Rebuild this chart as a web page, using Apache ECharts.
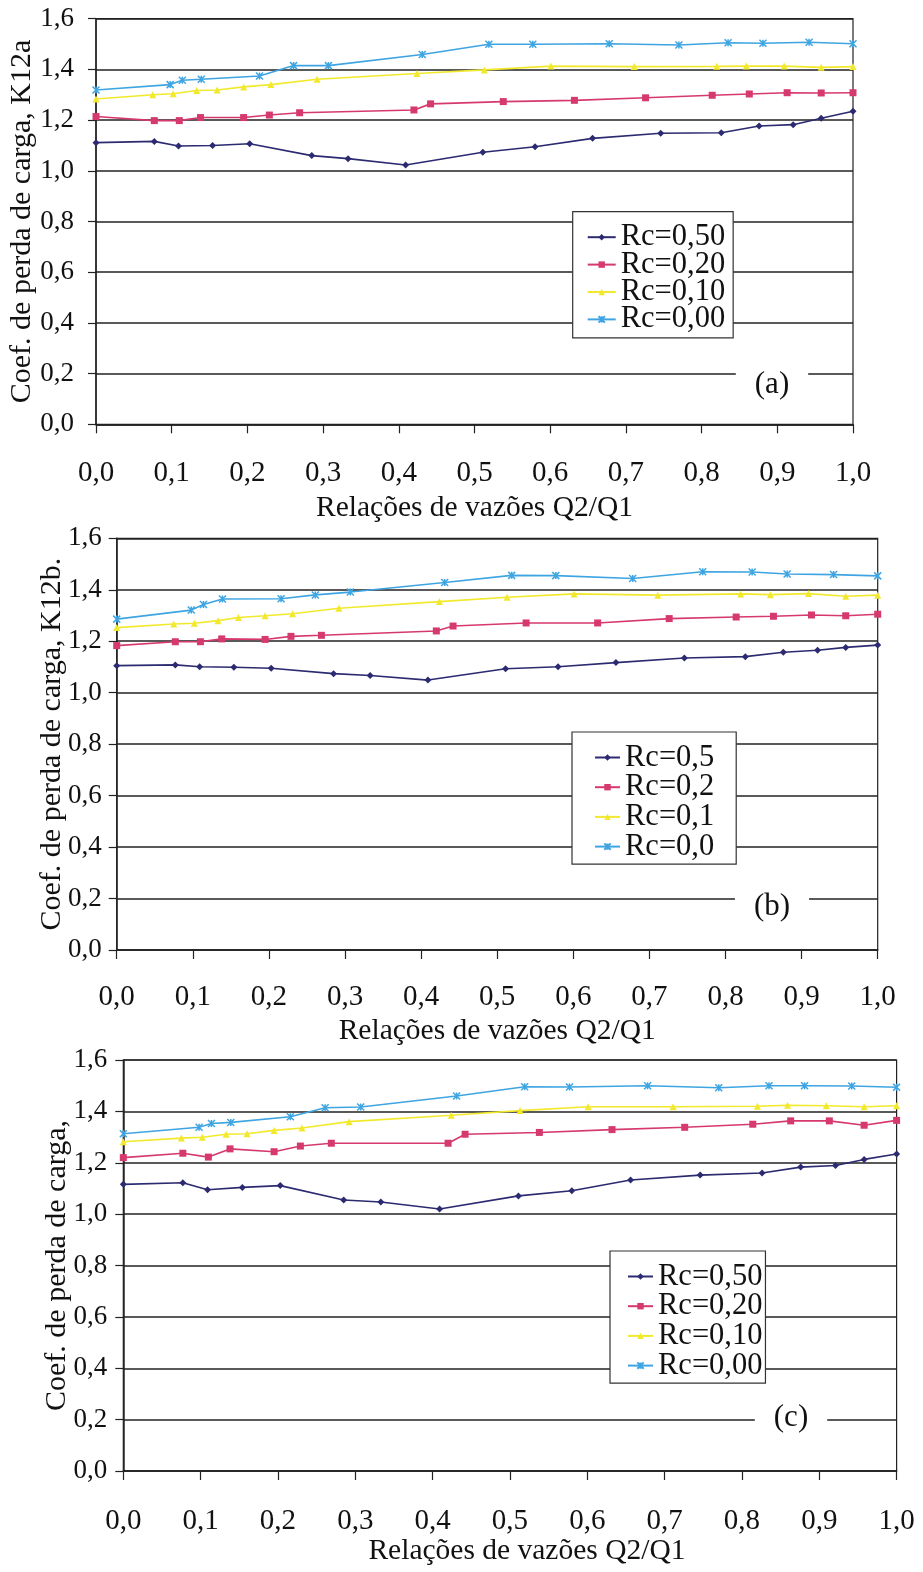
<!DOCTYPE html>
<html>
<head>
<meta charset="utf-8">
<script src="https://cdn.jsdelivr.net/npm/echarts@6/dist/echarts.min.js"></script>
<style>
  html, body { margin: 0; padding: 0; background: #fff; }
  #chart { width: 923px; height: 1572px; }
</style>
</head>
<body>
<div id="chart"></div>
<script>
// Q2/Q1 values for each Rc curve (same flow ratios in all three panels)
const qRc50 = [0, 0.077, 0.109, 0.154, 0.203, 0.285, 0.333, 0.409, 0.511, 0.580, 0.656, 0.746, 0.826, 0.876, 0.921, 0.958, 1.0];
const qRc20 = [0, 0.077, 0.110, 0.138, 0.195, 0.229, 0.269, 0.420, 0.442, 0.538, 0.632, 0.726, 0.814, 0.863, 0.913, 0.958, 1.0];
const qRc10 = [0, 0.075, 0.102, 0.133, 0.160, 0.195, 0.231, 0.292, 0.424, 0.513, 0.601, 0.711, 0.820, 0.859, 0.909, 0.958, 1.0];
const qRc00 = [0, 0.098, 0.114, 0.139, 0.216, 0.261, 0.307, 0.431, 0.519, 0.577, 0.678, 0.770, 0.835, 0.881, 0.942, 1.0];

// (a) K12a
const kaRc50 = [1.111, 1.116, 1.098, 1.100, 1.107, 1.060, 1.048, 1.023, 1.073, 1.095, 1.128, 1.148, 1.150, 1.177, 1.182, 1.207, 1.235];
const kaRc20 = [1.214, 1.198, 1.198, 1.210, 1.210, 1.220, 1.229, 1.240, 1.264, 1.273, 1.278, 1.288, 1.298, 1.303, 1.308, 1.307, 1.308];
const kaRc10 = [1.283, 1.300, 1.304, 1.317, 1.319, 1.331, 1.340, 1.361, 1.384, 1.398, 1.413, 1.411, 1.412, 1.413, 1.413, 1.408, 1.411];
const kaRc00 = [1.319, 1.340, 1.357, 1.361, 1.374, 1.415, 1.415, 1.459, 1.499, 1.499, 1.501, 1.496, 1.505, 1.503, 1.507, 1.501];

// (b) K12b
const kbRc50 = [1.105, 1.108, 1.101, 1.099, 1.095, 1.074, 1.067, 1.049, 1.093, 1.101, 1.117, 1.135, 1.140, 1.157, 1.165, 1.176, 1.185];
const kbRc20 = [1.183, 1.198, 1.198, 1.209, 1.207, 1.219, 1.223, 1.240, 1.259, 1.271, 1.271, 1.288, 1.294, 1.297, 1.302, 1.299, 1.305];
const kbRc10 = [1.253, 1.267, 1.270, 1.280, 1.292, 1.299, 1.307, 1.328, 1.354, 1.371, 1.384, 1.379, 1.384, 1.381, 1.385, 1.375, 1.379];
const kbRc00 = [1.286, 1.321, 1.343, 1.364, 1.365, 1.380, 1.391, 1.428, 1.456, 1.455, 1.444, 1.470, 1.469, 1.461, 1.459, 1.454];

// (c)
const kcRc50 = [1.116, 1.122, 1.095, 1.104, 1.111, 1.055, 1.047, 1.020, 1.071, 1.091, 1.133, 1.152, 1.160, 1.183, 1.189, 1.213, 1.234];
const kcRc20 = [1.220, 1.237, 1.222, 1.254, 1.243, 1.265, 1.276, 1.276, 1.311, 1.318, 1.329, 1.338, 1.350, 1.363, 1.363, 1.346, 1.365];
const kcRc10 = [1.282, 1.296, 1.299, 1.311, 1.313, 1.326, 1.335, 1.360, 1.385, 1.403, 1.418, 1.418, 1.420, 1.424, 1.422, 1.418, 1.422];
const kcRc00 = [1.313, 1.338, 1.353, 1.357, 1.379, 1.414, 1.417, 1.460, 1.496, 1.495, 1.500, 1.492, 1.500, 1.500, 1.499, 1.494];

const namesAC = ['Rc=0,50', 'Rc=0,20', 'Rc=0,10', 'Rc=0,00'];
const namesB = ['Rc=0,5', 'Rc=0,2', 'Rc=0,1', 'Rc=0,0'];
const panelTags = ['(a)', '(b)', '(c)'];
const yTitles = ['Coef. de perda de carga, K12a', 'Coef. de perda de carga, K12b.', 'Coef. de perda de carga,'];
const xTitle = 'Relações de vazões Q2/Q1';

const FONT = '"Liberation Serif", "Times New Roman", serif';
const colors = ['#2c2a70', '#d6396e', '#f2e92c', '#3ea5e2'];
const starPath = 'path://M0,0L10,10M10,0L0,10M5,0L5,10';
const symbols = ['diamond', 'rect', 'triangle', starPath];
const fmt = v => v.toFixed(1).replace('.', ',');
const zip = (xs, ys) => xs.map((x, i) => [x, ys[i]]);

const panels = [
  { grid: { left: 96, top: 18.7, width: 757, height: 405.6 },
    ys: [kaRc50, kaRc20, kaRc10, kaRc00], names: namesAC,
    yGap: 59, yMargin: 22, xGap: 69, xMargin: 35, xPad: 0,
    legend: { left: 572.7, top: 211.7, padding: [10, 8, 3, 14], itemWidth: 28, gap: -3.6 },
    tag: { x: 772, y: 385 } },
  { grid: { left: 116.7, top: 538.3, width: 761, height: 411.7 },
    ys: [kbRc50, kbRc20, kbRc10, kbRc00], names: namesB,
    yGap: 50, yMargin: 15, xGap: 66, xMargin: 33, xPad: 0,
    legend: { left: 572, top: 732, padding: [10, 22, 2, 22], itemWidth: 25, gap: -1.3 },
    tag: { x: 772, y: 907 } },
  { grid: { left: 123.3, top: 1060, width: 773.3, height: 411 },
    ys: [kcRc50, kcRc20, kcRc10, kcRc00], names: namesAC,
    yGap: 51, yMargin: 16, xGap: 65, xMargin: 36, xPad: 34,
    legend: { left: 610, top: 1251, padding: [10, 3, 2, 17], itemWidth: 25, gap: -1.3 },
    tag: { x: 791, y: 1418 } }
];
const xs = [qRc50, qRc20, qRc10, qRc00];

const option = {
  animation: false,
  backgroundColor: '#fff',
  textStyle: { fontFamily: FONT },
  grid: [], xAxis: [], yAxis: [], legend: [], series: [], graphic: []
};

panels.forEach((p, k) => {
  option.grid.push(Object.assign({
    show: true, borderColor: '#222', borderWidth: 1.2,
    containLabel: false, outerBoundsMode: 'none'
  }, p.grid));
  option.xAxis.push({
    type: 'value', gridIndex: k, min: 0, max: 1, interval: 0.1,
    name: xTitle, nameLocation: 'middle', nameGap: p.xGap, nameMoveOverlap: false,
    nameTextStyle: { fontFamily: FONT, fontSize: 29.5, color: '#111', padding: [0, 0, 0, p.xPad] },
    axisLine: { lineStyle: { color: '#222', width: 1.5 } },
    axisTick: { show: true, length: 9, lineStyle: { color: '#222', width: 1.2 } },
    axisLabel: { formatter: fmt, margin: p.xMargin, fontFamily: FONT, fontSize: 29, color: '#111' },
    splitLine: { show: false }
  });
  option.yAxis.push({
    type: 'value', gridIndex: k, min: 0, max: 1.6, interval: 0.2,
    name: yTitles[k], nameLocation: 'middle', nameRotate: 90, nameGap: p.yGap, nameMoveOverlap: false,
    nameTextStyle: { fontFamily: FONT, fontSize: 30, color: '#111' },
    axisLine: { show: true, lineStyle: { color: '#222', width: 1.5 } },
    axisTick: { show: true, length: 8, lineStyle: { color: '#222', width: 1.2 } },
    axisLabel: { formatter: fmt, margin: p.yMargin, fontFamily: FONT, fontSize: 27, color: '#111' },
    splitLine: { show: true, lineStyle: { color: '#222', width: 1.5 } }
  });
  option.legend.push({
    orient: 'vertical', left: p.legend.left, top: p.legend.top,
    padding: p.legend.padding, itemGap: p.legend.gap,
    itemWidth: p.legend.itemWidth, itemHeight: 8,
    backgroundColor: '#fff', borderColor: '#333', borderWidth: 1.2,
    textStyle: { fontFamily: FONT, fontSize: 30.5, color: '#111' },
    data: p.names
  });
  p.ys.forEach((ys, i) => {
    option.series.push({
      type: 'line', name: p.names[i], xAxisIndex: k, yAxisIndex: k,
      data: zip(xs[i], ys),
      symbol: symbols[i], symbolSize: 7,
      itemStyle: i === 3
        ? { color: colors[i], borderColor: colors[i], borderWidth: 1.5 }
        : { color: colors[i] },
      lineStyle: { color: colors[i], width: 1.6 }
    });
  });
  option.graphic.push({
    type: 'text', x: p.tag.x, y: p.tag.y, z: 100,
    style: {
      text: panelTags[k], font: '31px ' + FONT, fill: '#111',
      align: 'center', verticalAlign: 'middle',
      backgroundColor: '#fff', padding: [4, 19]
    }
  });
});

const chart = echarts.init(document.getElementById('chart'), null, { renderer: 'canvas' });
chart.setOption(option);
</script>
</body>
</html>
